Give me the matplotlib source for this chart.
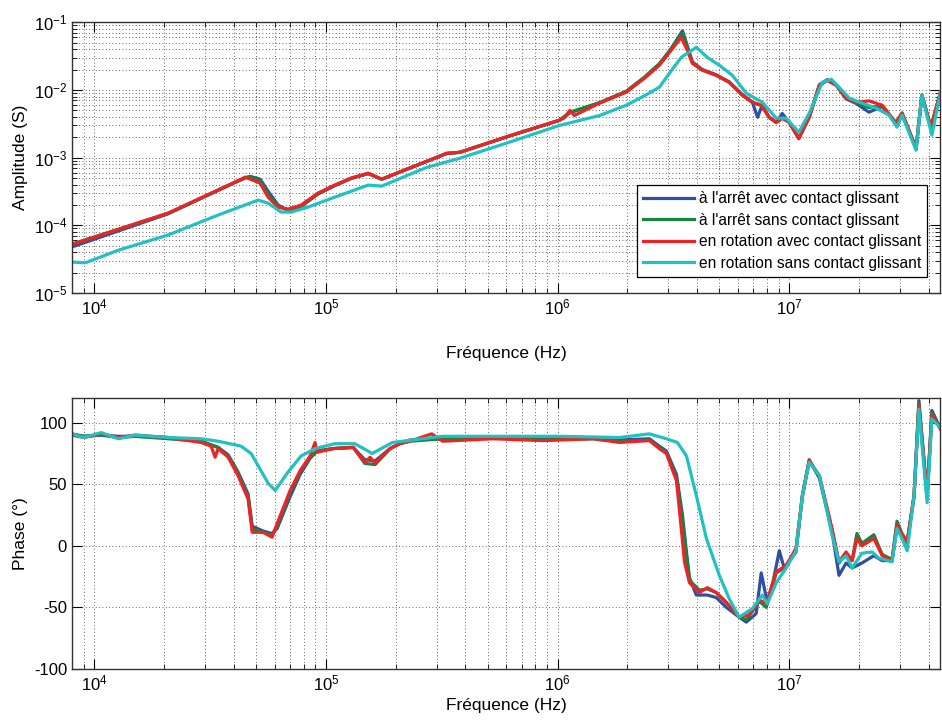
import numpy as np
import matplotlib
matplotlib.use("Agg")
import matplotlib.pyplot as plt
from matplotlib.ticker import LogLocator, NullFormatter, MultipleLocator

plt.rcParams['font.family'] = ['Liberation Sans', 'DejaVu Sans']
plt.rcParams['mathtext.default'] = 'regular'
plt.rcParams['axes.unicode_minus'] = False

# =========================
# DATA
# =========================
labels = ["à l'arrêt avec contact glissant",
          "à l'arrêt sans contact glissant",
          "en rotation avec contact glissant",
          "en rotation sans contact glissant"]
colors = ['#2f4fa6', '#17853c', '#ee2424', '#22c0c0']

# amplitude, red / green / blue share most of the curve
f_amp_red = [8.0e3, 2.08e4, 4.05e4, 4.48e4, 5.2e4, 5.62e4, 6.21e4, 6.86e4, 7.8e4, 9.24e4,
             1.09e5, 1.28e5, 1.52e5, 1.74e5, 3.32e5, 3.78e5, 6.21e5, 1.02e6, 1.07e6, 1.13e6,
             1.18e6, 1.52e6, 1.98e6, 2.37e6, 2.75e6, 3.04e6, 3.42e6, 3.63e6, 3.82e6, 4.22e6, 4.84e6,
             5.51e6, 6.27e6, 6.93e6, 7.57e6, 8.2e6, 8.79e6, 9.33e6, 1.0e7, 1.1e7, 1.22e7,
             1.35e7, 1.46e7, 1.6e7, 1.76e7, 1.95e7, 2.21e7, 2.52e7, 2.89e7, 3.07e7, 3.53e7,
             3.74e7, 4.09e7, 4.5e7]
amp_red = [5.2e-5, 1.52e-4, 4.35e-4, 5.15e-4, 4.2e-4, 2.61e-4, 1.86e-4, 1.74e-4, 1.99e-4, 3.0e-4,
           3.93e-4, 4.98e-4, 5.9e-4, 4.82e-4, 1.16e-3, 1.2e-3, 2.1e-3, 3.58e-3, 3.9e-3, 5.0e-3,
           4.2e-3, 6.4e-3, 9.3e-3, 1.49e-2, 2.32e-2, 3.6e-2, 6.0e-2, 3.86e-2, 2.48e-2, 1.96e-2, 1.65e-2,
           1.3e-2, 8.4e-3, 6.6e-3, 5.96e-3, 3.96e-3, 3.34e-3, 3.83e-3, 3.34e-3, 1.94e-3, 3.96e-3,
           1.17e-2, 1.39e-2, 1.17e-2, 7.55e-3, 6.6e-3, 6.9e-3, 5.96e-3, 3.23e-3, 4.54e-3, 1.38e-3,
           8.4e-3, 2.82e-3, 9.3e-3]

f_amp_blue = [8.0e3, 2.08e4, 4.05e4, 4.48e4, 4.7e4, 5.2e4, 5.62e4, 6.21e4, 6.86e4, 7.8e4, 9.24e4,
              1.09e5, 1.28e5, 1.52e5, 1.74e5, 3.32e5, 3.78e5, 6.21e5, 1.02e6, 1.13e6, 1.52e6,
              1.98e6, 2.37e6, 2.75e6, 3.04e6, 3.46e6, 3.63e6, 3.82e6, 4.22e6, 4.84e6,
              5.51e6, 6.27e6, 6.93e6, 7.3e6, 7.65e6, 8.2e6, 8.79e6, 9.33e6, 1.0e7, 1.1e7, 1.22e7,
              1.35e7, 1.46e7, 1.6e7, 1.76e7, 1.95e7, 2.21e7, 2.52e7, 2.89e7, 3.07e7, 3.53e7,
              3.74e7, 4.09e7, 4.5e7]
amp_blue = [4.8e-5, 1.48e-4, 4.3e-4, 5.0e-4, 5.3e-4, 4.8e-4, 3.2e-4, 2.0e-4, 1.65e-4, 1.9e-4, 2.9e-4,
            3.85e-4, 4.9e-4, 5.8e-4, 4.8e-4, 1.15e-3, 1.2e-3, 2.1e-3, 3.58e-3, 4.6e-3, 6.5e-3,
            9.5e-3, 1.52e-2, 2.4e-2, 3.7e-2, 7.5e-2, 4.5e-2, 2.6e-2, 2.0e-2, 1.68e-2,
            1.32e-2, 8.6e-3, 6.6e-3, 3.96e-3, 6.0e-3, 3.9e-3, 3.3e-3, 4.5e-3, 3.3e-3, 1.9e-3, 3.96e-3,
            1.2e-2, 1.42e-2, 1.17e-2, 7.4e-3, 6.3e-3, 4.7e-3, 5.7e-3, 3.2e-3, 4.5e-3, 1.35e-3,
            8.4e-3, 2.8e-3, 9.3e-3]

f_amp_green = [8.0e3, 2.08e4, 4.05e4, 4.48e4, 4.7e4, 5.2e4, 5.62e4, 6.21e4, 6.86e4, 7.8e4, 9.24e4,
               1.09e5, 1.28e5, 1.52e5, 1.74e5, 3.32e5, 3.78e5, 6.21e5, 1.02e6, 1.13e6, 1.52e6,
               1.98e6, 2.37e6, 2.75e6, 3.04e6, 3.46e6, 3.63e6, 3.82e6, 4.22e6, 4.84e6,
               5.51e6, 6.27e6, 6.93e6, 7.57e6, 8.2e6, 8.79e6, 9.33e6, 1.0e7, 1.1e7, 1.22e7,
               1.35e7, 1.46e7, 1.6e7, 1.76e7, 1.95e7, 2.21e7, 2.52e7, 2.89e7, 3.07e7, 3.53e7,
               3.74e7, 4.09e7, 4.5e7]
amp_green = [5.3e-5, 1.5e-4, 4.35e-4, 5.1e-4, 5.2e-4, 4.6e-4, 2.9e-4, 1.9e-4, 1.7e-4, 1.95e-4, 2.95e-4,
             3.9e-4, 4.95e-4, 5.85e-4, 4.8e-4, 1.16e-3, 1.2e-3, 2.1e-3, 3.58e-3, 4.7e-3, 6.5e-3,
             9.6e-3, 1.55e-2, 2.45e-2, 3.8e-2, 7.0e-2, 4.2e-2, 2.5e-2, 1.97e-2, 1.65e-2,
             1.3e-2, 8.4e-3, 6.6e-3, 5.9e-3, 3.96e-3, 3.34e-3, 3.83e-3, 3.34e-3, 1.94e-3, 3.96e-3,
             1.17e-2, 1.4e-2, 1.17e-2, 7.5e-3, 6.5e-3, 5.5e-3, 5.9e-3, 3.3e-3, 4.6e-3, 1.38e-3,
             8.4e-3, 2.82e-3, 9.3e-3]

f_amp_cyan = [8.0e3, 9.14e3, 1.27e4, 2.08e4, 3.42e4, 5.09e4, 5.62e4, 6.4e4, 7.06e4, 8.36e4,
              1.09e5, 1.52e5, 1.74e5, 2.72e5, 3.78e5, 6.21e5, 1.02e6, 1.52e6, 1.98e6, 2.37e6,
              2.75e6, 3.04e6, 3.42e6, 3.97e6, 4.43e6, 4.99e6, 5.68e6, 6.53e6, 7.65e6, 8.79e6,
              9.7e6, 1.1e7, 1.22e7, 1.39e7, 1.52e7, 1.64e7, 1.82e7, 2.06e7, 2.37e7, 2.7e7,
              2.92e7, 3.07e7, 3.53e7, 3.74e7, 4.13e7, 4.5e7]
amp_cyan = [2.87e-5, 2.8e-5, 4.3e-5, 7.2e-5, 1.42e-4, 2.36e-4, 2.13e-4, 1.57e-4, 1.57e-4, 1.86e-4,
            2.61e-4, 3.93e-4, 3.8e-4, 7.2e-4, 9.8e-4, 1.7e-3, 3.0e-3, 4.2e-3, 5.96e-3, 8.2e-3,
            1.1e-2, 1.77e-2, 3.04e-2, 4.28e-2, 3.04e-2, 2.32e-2, 1.65e-2, 8.95e-3, 6.6e-3, 3.83e-3,
            3.83e-3, 2.38e-3, 4.54e-3, 1.3e-2, 1.44e-2, 1.1e-2, 7.55e-3, 6.4e-3, 5.4e-3, 4.24e-3,
            2.82e-3, 4.24e-3, 1.29e-3, 8.4e-3, 2.15e-3, 9.3e-3]

# phase (degrees)
f_ph_red = [8.0e3, 9.0e3, 1.07e4, 1.27e4, 1.5e4, 2.08e4, 2.89e4, 3.19e4, 3.32e4, 3.42e4,
            3.78e4, 4.17e4, 4.61e4, 4.8e4, 5.35e4, 5.85e4, 6.15e4, 7.0e4, 7.73e4, 8.53e4,
            8.97e4, 9.14e4, 1.07e5, 1.31e5, 1.47e5, 1.55e5, 1.63e5, 1.89e5, 2.08e5, 2.3e5,
            2.86e5, 3.19e5, 5.25e5, 8.61e5, 1.42e6, 1.85e6, 2.49e6, 2.75e6, 2.95e6, 3.26e6,
            3.42e6, 3.53e6, 3.71e6, 4.09e6, 4.43e6, 4.84e6, 5.35e6, 6.08e6, 6.73e6, 7.43e6,
            7.96e6, 8.79e6, 9.7e6, 1.07e7, 1.14e7, 1.22e7, 1.35e7, 1.53e7, 1.64e7, 1.76e7,
            1.87e7, 1.96e7, 2.06e7, 2.32e7, 2.52e7, 2.78e7, 2.92e7, 3.07e7, 3.23e7, 3.46e7,
            3.63e7, 3.94e7, 4.13e7, 4.5e7]
ph_red = [90, 88, 91, 88, 90, 88, 84, 81, 72, 79,
          72, 57, 38, 11, 11, 7, 18, 45, 61, 73,
          84, 76, 79, 80, 68, 72, 67, 79, 83, 85,
          91, 85, 87, 85.5, 87, 84, 85.5, 79, 75, 53,
          14, -13, -30, -38, -34, -38, -46, -58, -56, -44,
          -47, -21, -16, -2, 41, 69, 57, 14, -13, -5,
          -12, 6, 0, 6, -8, -12, 17, 9, 3, 41,
          114, 41, 106, 95]

f_ph_blue = [8.0e3, 9.0e3, 1.07e4, 1.27e4, 1.5e4, 2.08e4, 2.89e4, 3.19e4, 3.42e4,
             3.78e4, 4.17e4, 4.61e4, 4.8e4, 5.35e4, 5.85e4, 6.15e4, 7.0e4, 7.73e4, 8.53e4,
             9.14e4, 1.07e5, 1.31e5, 1.47e5, 1.63e5, 1.89e5, 2.08e5, 2.3e5,
             3.19e5, 5.25e5, 8.61e5, 1.42e6, 1.85e6, 2.49e6, 2.75e6, 2.95e6, 3.26e6,
             3.46e6, 3.6e6, 3.71e6, 3.97e6, 4.43e6, 4.84e6, 5.35e6, 6.08e6, 6.53e6, 7.2e6,
             7.57e6, 8.04e6, 8.5e6, 9.06e6, 9.51e6, 1.07e7, 1.14e7, 1.22e7, 1.35e7, 1.53e7,
             1.64e7, 1.76e7, 1.87e7, 2.06e7, 2.32e7, 2.52e7, 2.78e7, 2.92e7, 3.07e7, 3.23e7,
             3.46e7, 3.63e7, 3.94e7, 4.13e7, 4.5e7]
ph_blue = [91, 89, 90, 89, 89, 88, 85, 82, 80,
           74, 60, 42, 16, 12, 10, 14, 40, 58, 71,
           77, 79, 80, 70, 69, 79, 83, 86,
           87, 88, 87, 88, 86, 87, 81, 77, 58,
           25, -5, -26, -40, -40, -42, -50, -58, -62, -55,
           -22, -46, -30, -4, -18, -5, 40, 70, 55, 12,
           -24, -14, -18, -14, -8, -12, -12, 16, 8, 2,
           40, 118, 40, 110, 95]

f_ph_green = [8.0e3, 9.0e3, 1.07e4, 1.27e4, 1.5e4, 2.08e4, 2.89e4, 3.19e4, 3.42e4,
              3.78e4, 4.17e4, 4.61e4, 4.8e4, 5.35e4, 5.85e4, 6.15e4, 7.0e4, 7.73e4, 8.53e4,
              9.14e4, 1.07e5, 1.31e5, 1.47e5, 1.63e5, 1.89e5, 2.08e5, 2.3e5,
              3.19e5, 5.25e5, 8.61e5, 1.42e6, 1.85e6, 2.49e6, 2.75e6, 2.95e6, 3.26e6,
              3.46e6, 3.6e6, 3.71e6, 4.09e6, 4.43e6, 4.84e6, 5.35e6, 6.08e6, 6.53e6, 7.43e6,
              7.96e6, 8.79e6, 9.7e6, 1.07e7, 1.14e7, 1.22e7, 1.35e7, 1.53e7, 1.64e7, 1.76e7,
              1.87e7, 1.96e7, 2.06e7, 2.32e7, 2.52e7, 2.78e7, 2.92e7, 3.07e7, 3.23e7, 3.46e7,
              3.63e7, 3.94e7, 4.13e7, 4.5e7]
ph_green = [90, 89, 90, 88, 89, 87, 85, 82, 80,
            73, 59, 40, 14, 11, 9, 16, 43, 60, 72,
            77, 79, 80, 67, 66, 79, 83, 85,
            87, 88, 86, 87, 85, 86, 80, 76, 55,
            20, -8, -28, -36, -35, -38, -46, -58, -60, -45,
            -50, -22, -17, -3, 41, 69, 56, 13, -14, -6,
            -12, 10, 2, 9, -7, -11, 20, 10, 3, 41,
            116, 40, 108, 95]

f_ph_cyan = [8.0e3, 9.0e3, 1.07e4, 1.27e4, 1.5e4, 2.08e4, 2.89e4, 3.42e4, 4.3e4, 4.75e4,
             5.62e4, 6.03e4, 6.86e4, 7.8e4, 8.97e4, 1.09e5, 1.33e5, 1.52e5, 1.58e5, 1.94e5,
             3.19e5, 6.21e5, 1.02e6, 1.85e6, 2.49e6, 2.95e6, 3.29e6, 3.6e6, 3.97e6, 4.39e6,
             4.99e6, 5.51e6, 6.08e6, 6.93e6, 7.65e6, 8.04e6, 8.79e6, 9.7e6, 1.07e7, 1.14e7,
             1.22e7, 1.35e7, 1.53e7, 1.64e7, 1.76e7, 1.87e7, 2.06e7, 2.28e7, 2.44e7, 2.78e7,
             2.92e7, 3.07e7, 3.23e7, 3.46e7, 3.63e7, 3.94e7, 4.13e7, 4.5e7]
ph_cyan = [91, 88, 92, 87, 90, 88, 87, 85, 81, 75,
           51, 45, 60, 73, 79, 83, 83, 77, 75, 84,
           89, 89, 89, 88, 91, 87, 84, 73, 41, 6,
           -24, -43, -58, -51, -40, -47, -30, -18, -4, 41,
           68, 57, 9, -13, -8, -18, -6, -5, -10, -13,
           14, 6, -4, 41, 111, 35, 103, 96]

amp_series = [(f_amp_blue, amp_blue), (f_amp_green, amp_green),
              (f_amp_red, amp_red), (f_amp_cyan, amp_cyan)]
ph_series = [(f_ph_blue, ph_blue), (f_ph_green, ph_green),
             (f_ph_red, ph_red), (f_ph_cyan, ph_cyan)]

XLIM = (8.0e3, 4.5e7)
GRID = dict(linestyle=(0, (1, 3)), color='#333333', linewidth=0.6)

fig = plt.figure(figsize=(9.42, 7.2), dpi=100)
ax1 = fig.add_axes([0.0764, 0.593, 0.922, 0.376])
ax2 = fig.add_axes([0.0764, 0.071, 0.922, 0.376])


def style_axis(ax):
    ax.set_xscale('log')
    ax.set_xlim(*XLIM)
    ax.xaxis.set_major_locator(LogLocator(base=10, numticks=12))
    ax.xaxis.set_minor_locator(LogLocator(base=10, subs=np.arange(2, 10), numticks=12))
    ax.xaxis.set_minor_formatter(NullFormatter())
    ax.grid(True, which='major', **GRID)
    ax.grid(True, which='minor', axis='x', **GRID)
    ax.tick_params(which='both', direction='in', top=True, right=True, labelsize=12)
    ax.tick_params(which='major', length=7)
    ax.tick_params(which='minor', length=3.5)
    for s in ax.spines.values():
        s.set_linewidth(1.0)
        s.set_color('#333333')


style_axis(ax1)
ax1.set_yscale('log')
ax1.set_ylim(1e-5, 1e-1)
ax1.yaxis.set_major_locator(LogLocator(base=10, numticks=10))
ax1.yaxis.set_minor_locator(LogLocator(base=10, subs=np.arange(2, 10), numticks=10))
ax1.yaxis.set_minor_formatter(NullFormatter())
ax1.grid(True, which='minor', axis='y', **GRID)

for (f, a), c, lab in zip(amp_series, colors, labels):
    ax1.plot(f, a, color=c, linewidth=2.3, label=lab)

ax1.set_ylabel('Amplitude (S)', fontsize=12.5)
ax1.set_xlabel('Fréquence (Hz)', fontsize=12.5, labelpad=20)
leg = ax1.legend(loc='lower right', bbox_to_anchor=(0.985, 0.06), fontsize=11.2,
                 frameon=True, fancybox=False, edgecolor='black', framealpha=1,
                 handlelength=3.3, handletextpad=0.3, borderpad=0.4, labelspacing=0.42,
                 borderaxespad=0)
leg.get_frame().set_linewidth(0.9)

style_axis(ax2)
ax2.set_ylim(-100, 120)
ax2.yaxis.set_major_locator(MultipleLocator(50))
for (f, p), c, lab in zip(ph_series, colors, labels):
    ax2.plot(f, p, color=c, linewidth=2.3, label=lab)

ax2.set_ylabel('Phase (°)', fontsize=12.5)
ax2.set_xlabel('Fréquence (Hz)', fontsize=12.5, labelpad=3)

fig.savefig('out.png', dpi=100)
